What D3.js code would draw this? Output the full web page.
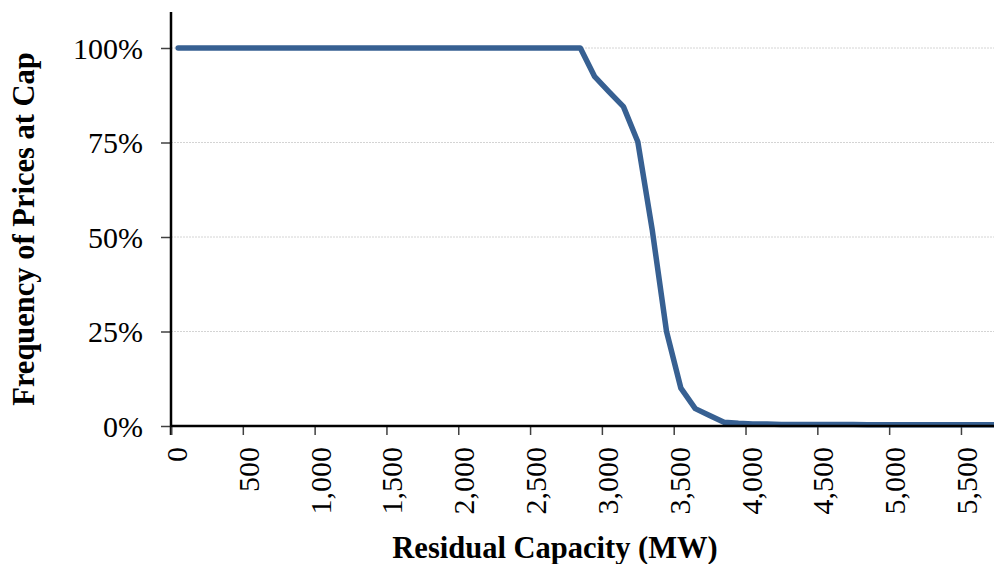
<!DOCTYPE html>
<html>
<head>
<meta charset="utf-8">
<script src="https://cdn.jsdelivr.net/npm/d3@7"></script>
<style>
  html, body { margin: 0; padding: 0; background: #fff; }
  svg { display: block; }
  text { font-family: "Liberation Serif", "Times New Roman", serif; fill: #000; }
</style>
</head>
<body>
<svg id="chart" width="994" height="564"></svg>
<script>
// Residual capacity (MW), bin midpoints
const capacity = [50,150,250,350,450,550,650,750,850,950,
  1050,1150,1250,1350,1450,1550,1650,1750,1850,1950,
  2050,2150,2250,2350,2450,2550,2650,2750,2850,2950,
  3050,3150,3250,3350,3450,3550,3650,3750,3850,3950,
  4050,4150,4250,4350,4450,4550,4650,4750,4850,4950,
  5050,5150,5250,5350,5450,5550,5650,5750];
// Frequency of prices at cap
const frequency = [1,1,1,1,1,1,1,1,1,1,
  1,1,1,1,1,1,1,1,1,1,
  1,1,1,1,1,1,1,1,1,0.924,
  0.884,0.845,0.752,0.52,0.25,0.10,0.046,0.028,0.010,0.007,
  0.005,0.005,0.004,0.004,0.004,0.004,0.004,0.004,0.003,0.003,
  0.003,0.003,0.003,0.003,0.003,0.003,0.003,0.003];
const xTicks = [0,500,1000,1500,2000,2500,3000,3500,4000,4500,5000,5500];
const yTicks = [0,0.25,0.5,0.75,1];
const xTitle = "Residual Capacity (MW)";
const yTitle = "Frequency of Prices at Cap";

const svg = d3.select("#chart");
const x = d3.scaleLinear().domain([0, 5730]).range([171, 994]);
const y = d3.scaleLinear().domain([0, 1]).range([426, 48]);

// gridlines
svg.append("g").selectAll("line")
  .data(yTicks.filter(d => d > 0))
  .join("line")
  .attr("x1", 171).attr("x2", 994)
  .attr("y1", d => y(d)).attr("y2", d => y(d))
  .attr("stroke", "#d4d4d4").attr("stroke-width", 1)
  .attr("stroke-dasharray", "2,1");

// y axis
const yAxis = d3.axisLeft(y).tickValues(yTicks).tickSize(10).tickPadding(18)
  .tickFormat(d3.format(".0%"));
const gy = svg.append("g").attr("transform", "translate(171,0)").call(yAxis);
gy.select(".domain").remove();
gy.selectAll(".tick line").attr("stroke", "#404040").attr("stroke-width", 1.5);
gy.selectAll(".tick text").attr("font-size", 30).attr("font-family", "Liberation Serif").attr("dy", "0.34em");
svg.append("line").attr("x1", 171).attr("x2", 171).attr("y1", 12).attr("y2", 435)
  .attr("stroke", "#000").attr("stroke-width", 2.5);

// x axis
const xAxis = d3.axisBottom(x).tickValues(xTicks).tickSize(9).tickFormat("");
const gx = svg.append("g").attr("transform", "translate(0,426)").call(xAxis);
gx.select(".domain").remove();
gx.selectAll(".tick line").attr("stroke", "#404040").attr("stroke-width", 1.5);
svg.append("g").selectAll("text")
  .data(xTicks).join("text")
  .attr("transform", d => `translate(${x(d)},447) rotate(-90)`)
  .attr("x", 0).attr("y", 16)
  .attr("text-anchor", "end")
  .attr("font-size", 30)
  .text(d => d3.format(",")(d));

// line
const line = d3.line().x((d, i) => x(capacity[i])).y(d => y(d));
svg.append("path").datum(frequency)
  .attr("d", line)
  .attr("fill", "none")
  .attr("stroke", "#376092")
  .attr("stroke-width", 5.5)
  .attr("stroke-linejoin", "round")
  .attr("stroke-linecap", "round");

svg.append("line").attr("x1", 171).attr("x2", 994).attr("y1", 426).attr("y2", 426)
  .attr("stroke", "#000").attr("stroke-width", 2.5);

// titles
svg.append("text")
  .attr("x", 555).attr("y", 558)
  .attr("text-anchor", "middle")
  .attr("font-size", 30.5).attr("font-weight", "bold")
  .text(xTitle);
svg.append("text")
  .attr("transform", "translate(34,229) rotate(-90)")
  .attr("text-anchor", "middle")
  .attr("font-size", 30.5).attr("font-weight", "bold")
  .text(yTitle);
</script>
</body>
</html>
